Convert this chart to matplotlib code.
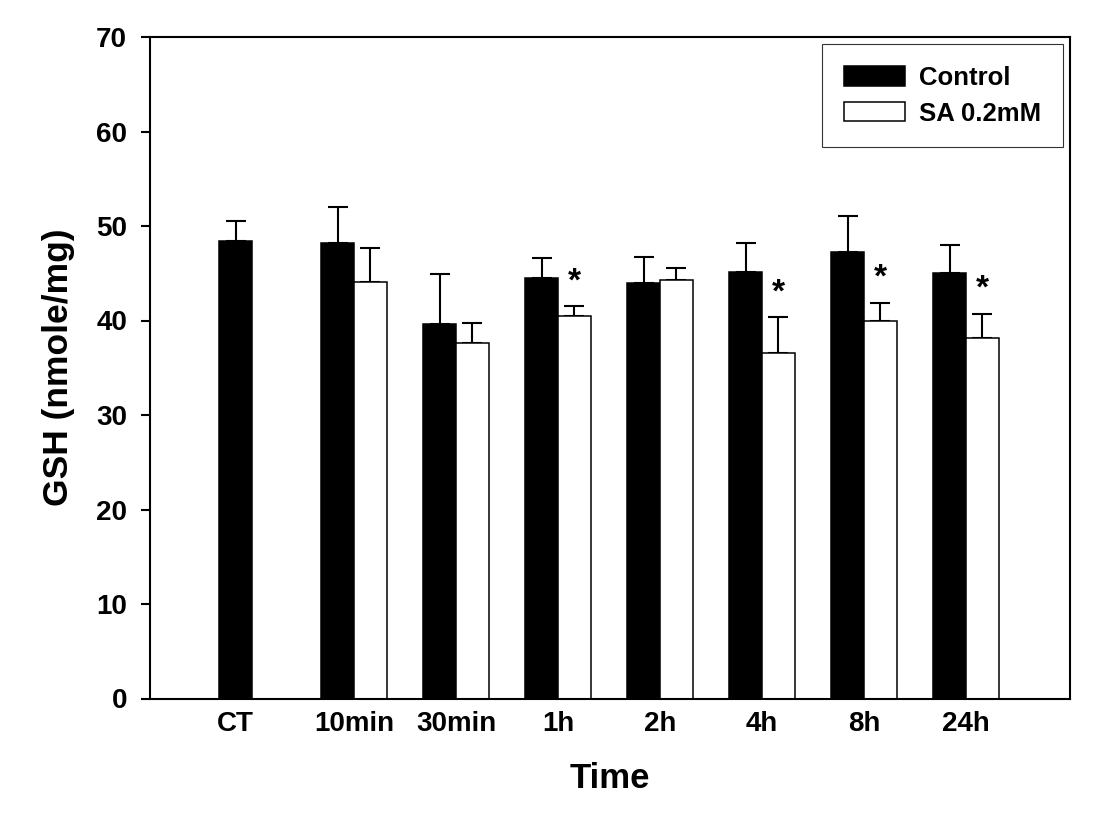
import numpy as np
import matplotlib
matplotlib.use("Agg")
import matplotlib.pyplot as plt

plt.rcParams['font.family'] = ['Liberation Sans', 'DejaVu Sans']
plt.rcParams['font.weight'] = 'bold'

# datos
categorias = ['CT', '10min', '30min', '1h', '2h', '4h', '8h', '24h']
control = [48.4, 48.2, 39.6, 44.5, 44.0, 45.1, 47.3, 45.0]
control_err = [2.1, 3.85, 5.3, 2.1, 2.7, 3.1, 3.8, 3.0]
sa = [np.nan, 44.1, 37.6, 40.5, 44.3, 36.6, 40.0, 38.1]
sa_err = [np.nan, 3.6, 2.15, 1.0, 1.3, 3.75, 1.9, 2.6]
significativo = [False, False, False, True, False, True, True, True]

x = np.arange(len(categorias))
w = 0.32

fig = plt.figure(figsize=(10.95, 8.24), dpi=100)
ax = fig.add_axes([150 / 1095, 1 - 698.5 / 824, 920 / 1095, 661.5 / 824])

ctrl = np.array(control)
ctrl_e = np.array(control_err)
sa_v = np.array(sa)
sa_e = np.array(sa_err)

ax.bar(x - w / 2, ctrl, w, color='black', edgecolor='black', linewidth=1.1,
       label='Control', zorder=2)
ax.bar(x + w / 2, sa_v, w, color='white', edgecolor='black', linewidth=1.1,
       label='SA 0.2mM', zorder=2)

ax.errorbar(x - w / 2, ctrl, yerr=[np.zeros_like(ctrl), ctrl_e], fmt='none',
            ecolor='black', elinewidth=1.5, capsize=7.2, capthick=1.5, zorder=1)
ax.errorbar(x + w / 2, sa_v, yerr=[np.zeros_like(sa_v), sa_e], fmt='none',
            ecolor='black', elinewidth=1.5, capsize=7.2, capthick=1.5, zorder=1)

for i, s in enumerate(significativo):
    if s:
        ax.text(x[i] + w / 2, sa_v[i] + sa_e[i] + 2.6, '*', ha='center', va='center',
                fontsize=24, fontweight='bold')

# posicion de etiquetas: en el centro del grupo, o de la barra si falta SA
ticks = [xi - w / 2 if np.isnan(v) else xi for xi, v in zip(x, sa_v)]
ax.set_xticks(ticks)
ax.set_xticklabels(categorias, fontsize=20, fontweight='bold')
ax.tick_params(axis='x', length=0, pad=9)

ax.set_ylim(0, 70)
ax.set_yticks(range(0, 71, 10))
ax.tick_params(axis='y', length=6.5, width=1.5, pad=10, labelsize=20)
for lab in ax.get_yticklabels():
    lab.set_fontweight('bold')

ax.set_xlim(-1.0, 8.02)

for sp in ax.spines.values():
    sp.set_linewidth(1.5)

ax.set_xlabel('Time', fontsize=25, fontweight='bold', labelpad=18)
ax.set_ylabel('GSH (nmole/mg)', fontsize=25.5, fontweight='bold', labelpad=15)

leg = ax.legend(loc='upper right', bbox_to_anchor=(1, 1), borderaxespad=0.28,
                frameon=True, fancybox=False, handlelength=2.35,
                handleheight=0.78, handletextpad=0.55, labelspacing=0.45,
                borderpad=0.85, prop={'weight': 'bold', 'size': 18.5})
leg.get_frame().set_edgecolor('black')
leg.get_frame().set_linewidth(0.8)

plt.savefig('out.png', dpi=100)
